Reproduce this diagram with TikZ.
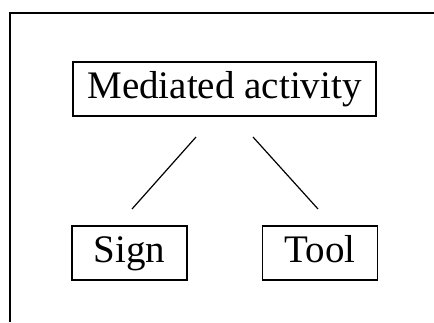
\documentclass[tikz,border=0pt]{standalone}
\usepackage{fontspec}
\setmainfont{Liberation Serif}
\usetikzlibrary{positioning}

\begin{document}
\begin{tikzpicture}[x=0.5pt, y=-0.5pt, node distance={95.25pt}, thick,
    main/.style = {draw, line width=0.8pt, minimum height=27pt, inner sep=0pt,
      text height=13pt, text depth=4pt, font=\fontsize{19.5}{23}\selectfont}]
        \useasboundingbox (0,0) rectangle (434,322);
        \draw[line width=1pt] (10,322) -- (10,13) -- (434,13);
        \node[main, minimum width=151.5pt] (med) at (224.5,89) {Mediated activity};
        \node[main, minimum width=57.5pt] (sign) at (129.5,253) {Sign};
        \node[main, minimum width=57.5pt] (tool) [right of=sign] {Tool};
        \coordinate (l1) at (196,137);
        \coordinate (l2) at (132,209);
        \coordinate (r1) at (253,137);
        \coordinate (r2) at (318,209);
        \draw[line width=0.6pt] (l1) -- (l2);
        \draw[line width=0.6pt] (r1) -- (r2);
    \end{tikzpicture}
\end{document}
